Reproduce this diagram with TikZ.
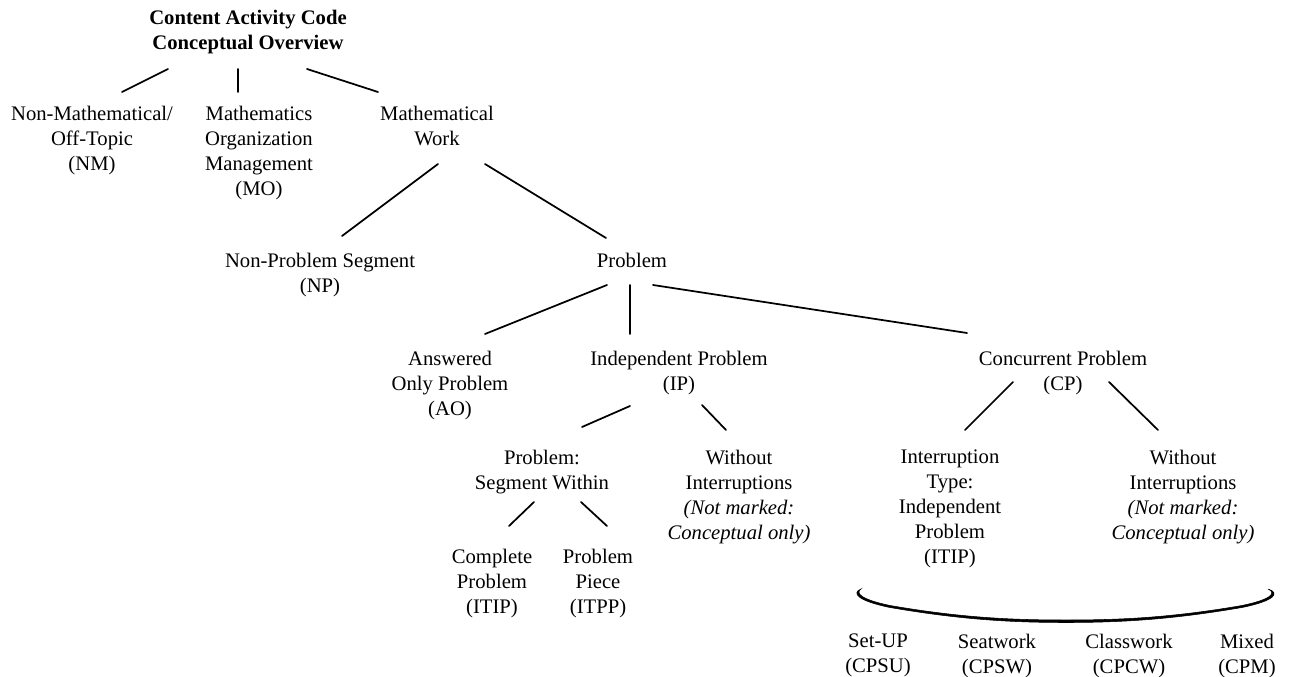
\documentclass[tikz,border=0pt]{standalone}
\usepackage{fontspec}
\setmainfont{Liberation Serif}
\begin{document}
\begin{tikzpicture}[x=0.75pt,y=-0.75pt,
  lbl/.style={anchor=north,align=center,inner sep=0pt,
    font=\fontsize{15.5pt}{18.75pt}\selectfont},
  ttl/.style={lbl,font=\fontsize{15.5pt}{18.75pt}\selectfont\bfseries},
  conn/.style={line width=1.3pt,line cap=round}]
\useasboundingbox (0,0) rectangle (1294,677);

% ---- labels ----
\node[ttl] (title) at (248,10) {Content Activity Code\\Conceptual Overview};

\node[lbl] (nm) at (92,106) {Non-Mathematical/\\Off-Topic\\(NM)};
\node[lbl] (mo) at (259,106) {Mathematics\\Organization\\Management\\(MO)};
\node[lbl] (mw) at (437,106) {Mathematical\\Work};

\node[lbl] (np) at (320,253) {Non-Problem Segment\\(NP)};
\node[lbl] (prob) at (632,253) {Problem};

\node[lbl] (ao) at (450,351) {Answered\\Only Problem\\(AO)};
\node[lbl] (ip) at (679,351) {Independent Problem\\(IP)};
\node[lbl] (cp) at (1063,351) {Concurrent Problem\\(CP)};

\node[lbl] (psw) at (542,450) {Problem:\\Segment Within};
\node[lbl] (wia) at (739,450) {Without\\Interruptions\\\textit{(Not marked:}\\\textit{Conceptual only)}};
\node[lbl] (itip) at (950,450) {Interruption\\Type:\\Independent\\Problem\\(ITIP)};
\node[lbl] (wib) at (1183,450) {Without\\Interruptions\\\textit{(Not marked:}\\\textit{Conceptual only)}};

\node[lbl] (cplt) at (492,549) {Complete\\Problem\\(ITIP)};
\node[lbl] (piece) at (598,549) {Problem\\Piece\\(ITPP)};

\node[lbl] (su) at (878,634) {Set-UP\\(CPSU)};
\node[lbl] (sw) at (997,634) {Seatwork\\(CPSW)};
\node[lbl] (cw) at (1129,634) {Classwork\\(CPCW)};
\node[lbl] (mx) at (1247,634) {Mixed\\(CPM)};

% ---- connector end points ----
\coordinate (title-nm) at (168,69);  \coordinate (nm-title) at (122,92);
\coordinate (title-mo) at (238,69);  \coordinate (mo-title) at (238,92);
\coordinate (title-mw) at (307,69);  \coordinate (mw-title) at (378,92);

\coordinate (mw-np) at (438,164);    \coordinate (np-mw) at (342,236);
\coordinate (mw-prob) at (485,164);  \coordinate (prob-mw) at (606,238);

\coordinate (prob-ao) at (607,285);  \coordinate (ao-prob) at (485,334);
\coordinate (prob-ip) at (630,285);  \coordinate (ip-prob) at (630,334);
\coordinate (prob-cp) at (653,285);  \coordinate (cp-prob) at (967,333);

\coordinate (ip-psw) at (630,406);   \coordinate (psw-ip) at (582,427);
\coordinate (ip-wia) at (702,405);   \coordinate (wia-ip) at (726,430);

\coordinate (cp-itip) at (1013,382); \coordinate (itip-cp) at (965,430);
\coordinate (cp-wib) at (1109,382);  \coordinate (wib-cp) at (1158,430);

\coordinate (psw-cplt) at (534,502); \coordinate (cplt-psw) at (509,526);
\coordinate (psw-piece) at (581,502);\coordinate (piece-psw) at (607,526);

% ---- connectors ----
\draw[conn] (title-nm) -- (nm-title);
\draw[conn] (title-mo) -- (mo-title);
\draw[conn] (title-mw) -- (mw-title);
\draw[conn] (mw-np) -- (np-mw);
\draw[conn] (mw-prob) -- (prob-mw);
\draw[conn] (prob-ao) -- (ao-prob);
\draw[conn] (prob-ip) -- (ip-prob);
\draw[conn] (prob-cp) -- (cp-prob);
\draw[conn] (ip-psw) -- (psw-ip);
\draw[conn] (ip-wia) -- (wia-ip);
\draw[conn] (cp-itip) -- (itip-cp);
\draw[conn] (cp-wib) -- (wib-cp);
\draw[conn] (psw-cplt) -- (cplt-psw);
\draw[conn] (psw-piece) -- (piece-psw);

% ---- brace grouping the interruption types ----
\fill[line width=0.4pt,draw]
  (861,589) .. controls (851,593) and (858,601) .. (890,607.5)
  .. controls (960,619.5) and (1010,622.5) .. (1066,622.5)
  .. controls (1122,622.5) and (1172,619.5) .. (1242,607.5)
  .. controls (1274,601) and (1281,593) .. (1268,589)
  .. controls (1277,593) and (1271,599.5) .. (1242,605.5)
  .. controls (1172,617.5) and (1122,620) .. (1066,620)
  .. controls (1010,620) and (960,617.5) .. (890,605.5)
  .. controls (861,599.5) and (855,593) .. (861,589) -- cycle;
\end{tikzpicture}
\end{document}
